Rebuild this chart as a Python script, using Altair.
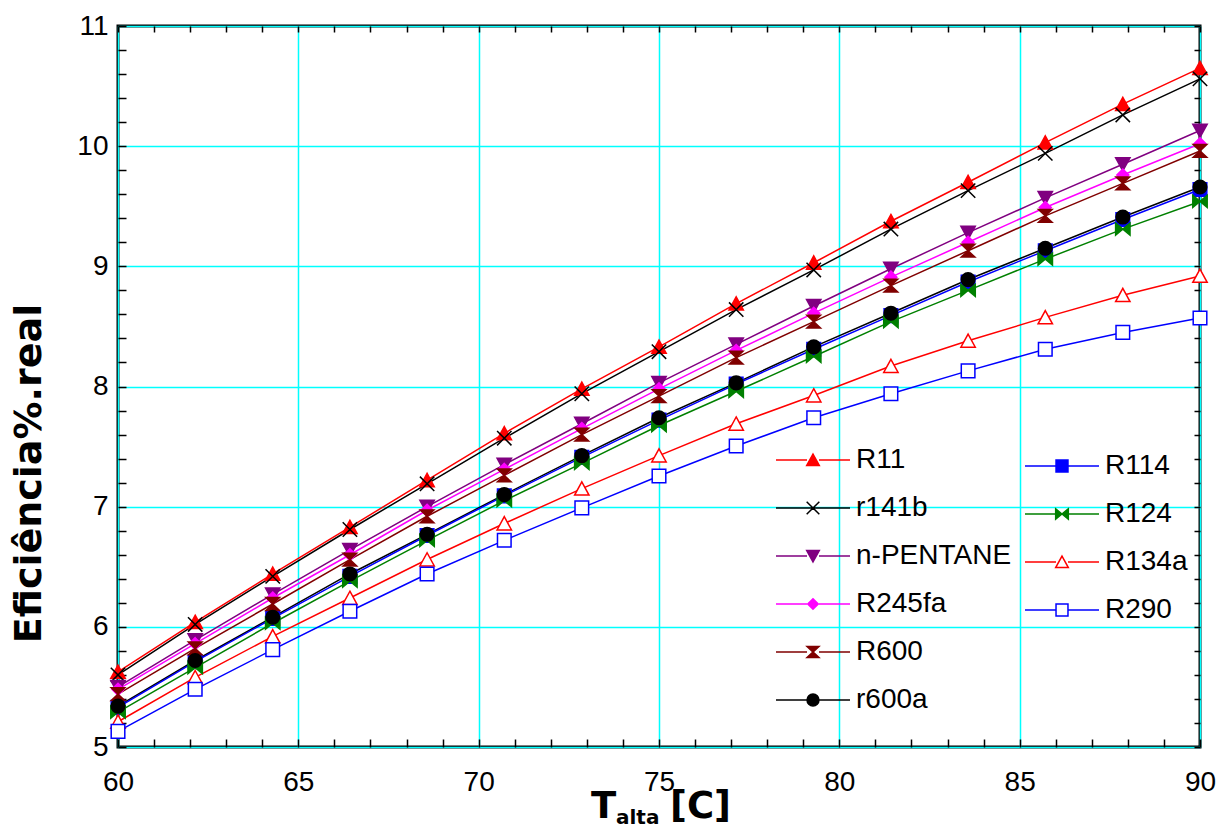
import altair as alt
import pandas as pd

# ---------------- data ----------------
T = [60, 62.14, 64.29, 66.43, 68.57, 70.71, 72.86, 75, 77.14, 79.29, 81.43, 83.57, 85.71, 87.86, 90]

R11 = [5.625, 6.04, 6.44, 6.83, 7.22, 7.61, 7.98, 8.33, 8.69, 9.03, 9.375, 9.70, 10.03, 10.35, 10.65]
r141b = [5.60, 6.02, 6.42, 6.81, 7.19, 7.57, 7.94, 8.29, 8.64, 8.97, 9.31, 9.63, 9.94, 10.26, 10.56]
nPENTANE = [5.50, 5.89, 6.27, 6.64, 7.00, 7.35, 7.69, 8.03, 8.35, 8.67, 8.98, 9.28, 9.57, 9.85, 10.13]
R245fa = [5.48, 5.86, 6.24, 6.60, 6.97, 7.31, 7.65, 7.98, 8.30, 8.61, 8.91, 9.20, 9.49, 9.76, 10.02]
R600 = [5.44, 5.82, 6.19, 6.56, 6.92, 7.26, 7.60, 7.92, 8.24, 8.54, 8.84, 9.13, 9.42, 9.69, 9.96]
r600a = [5.34, 5.72, 6.08, 6.44, 6.77, 7.10, 7.425, 7.74, 8.03, 8.33, 8.61, 8.89, 9.15, 9.41, 9.66]
R114 = [5.33, 5.71, 6.07, 6.42, 6.76, 7.09, 7.41, 7.72, 8.02, 8.31, 8.59, 8.87, 9.13, 9.39, 9.64]
R124 = [5.29, 5.66, 6.03, 6.38, 6.72, 7.05, 7.36, 7.675, 7.96, 8.25, 8.54, 8.80, 9.06, 9.31, 9.54]
R134a = [5.21, 5.58, 5.92, 6.24, 6.56, 6.86, 7.15, 7.425, 7.69, 7.925, 8.17, 8.38, 8.575, 8.76, 8.92]
R290 = [5.13, 5.48, 5.81, 6.13, 6.44, 6.72, 6.99, 7.255, 7.505, 7.74, 7.94, 8.13, 8.31, 8.45, 8.57]

group_a = ["R11", "r141b", "n-PENTANE", "R245fa", "R600", "r600a"]
group_b = ["R114", "R124", "R134a", "R290"]
values = {"R11": R11, "r141b": r141b, "n-PENTANE": nPENTANE, "R245fa": R245fa,
          "R600": R600, "r600a": r600a, "R114": R114, "R124": R124,
          "R134a": R134a, "R290": R290}

x_ticks_major = [60, 65, 70, 75, 80, 85, 90]
y_ticks_major = [5, 6, 7, 8, 9, 10, 11]

# ---------------- styles ----------------
stroke_col = {"R11": "#FF0000", "r141b": "#000000", "n-PENTANE": "#800080", "R245fa": "#FF00FF",
              "R600": "#800000", "r600a": "#000000", "R114": "#0000FF", "R124": "#008000",
              "R134a": "#FF0000", "R290": "#0000FF"}
fill_col = dict(stroke_col)
fill_col["R134a"] = "#FFFFFF"
fill_col["R290"] = "#FFFFFF"
marker = {"R11": "tri_up", "r141b": "x", "n-PENTANE": "tri_down", "R245fa": "diamond",
          "R600": "hourglass", "r600a": "circle", "R114": "square", "R124": "bowtie",
          "R134a": "tri_up", "R290": "square"}

SHAPES = {
    "tri_up": ("poly", [(0, -0.85), (0.9, 0.8), (-0.9, 0.8)]),
    "tri_down": ("poly", [(0, 0.85), (0.9, -0.8), (-0.9, -0.8)]),
    "x": ("lines", [[(-0.9, -0.9), (0.9, 0.9)], [(-0.9, 0.9), (0.9, -0.9)]]),
    "diamond": ("poly", [(0, -0.75), (0.75, 0), (0, 0.75), (-0.75, 0)]),
    "hourglass": ("poly", [(-0.85, -0.8), (0.85, -0.8), (-0.85, 0.8), (0.85, 0.8)]),
    "circle": ("circle", 0.85),
    "square": ("poly", [(-0.85, -0.85), (0.85, -0.85), (0.85, 0.85), (-0.85, 0.85)]),
    "bowtie": ("poly", [(-0.9, -0.75), (0.9, 0.75), (0.9, -0.75), (-0.9, 0.75)]),
}


def shape_path(kind, k):
    t, g = SHAPES[kind]
    if t == "poly":
        return "M" + "L".join(f"{x*k:.4f},{y*k:.4f}" for x, y in g) + "Z"
    if t == "lines":
        return "".join("M" + "L".join(f"{x*k:.4f},{y*k:.4f}" for x, y in seg) for seg in g)
    r = g * k
    return (f"M{r:.4f},0A{r:.4f},{r:.4f},0,1,1,{-r:.4f},0"
            f"A{r:.4f},{r:.4f},0,1,1,{r:.4f},0Z")


def legend_path(kind, k):
    gap = 0.85 * k
    if kind == "x":
        line = "M-1,0L1,0"
    else:
        line = f"M-1,0L{-gap:.4f},0M{gap:.4f},0L1,0"
    return line + shape_path(kind, k)


rows = []
for s, vals in values.items():
    for t, v in zip(T, vals):
        rows.append({"series": s, "T": t, "eff": v})
df = pd.DataFrame(rows)

W, H = 1082, 721
FONT = "Liberation Sans"
TFONT = "DejaVu Sans"

xs = alt.Scale(domain=[60, 90], nice=False, zero=False)
ys = alt.Scale(domain=[5, 11], nice=False, zero=False)


def xenc(axis=None, title=None):
    return alt.X("T:Q", scale=xs, axis=axis, title=title)


def yenc(axis=None, title=None):
    return alt.Y("eff:Q", scale=ys, axis=axis, title=title)


def group_layers(names):
    sub = df[df["series"].isin(names)]
    col_scale = alt.Scale(domain=names, range=[stroke_col[n] for n in names])
    fill_scale = alt.Scale(domain=names, range=[fill_col[n] for n in names])
    shp_scale = alt.Scale(domain=names, range=[shape_path(marker[n], 1.0) for n in names])
    line = alt.Chart(sub).mark_line(strokeWidth=1.5).encode(
        x=xenc(), y=yenc(),
        color=alt.Color("series:N", scale=col_scale, legend=None),
        detail="series:N",
    )
    pts = alt.Chart(sub).mark_point(filled=False, opacity=1, size=256, strokeWidth=1.5).encode(
        x=xenc(), y=yenc(),
        color=alt.Color("series:N", scale=col_scale, legend=None),
        fill=alt.Fill("series:N", scale=fill_scale, legend=None),
        shape=alt.Shape("series:N", scale=shp_scale, legend=None),
    )
    return line, pts


def legend_layer(names, lx, ly):
    sub = df[df["series"].isin(names)]
    col_scale = alt.Scale(domain=names, range=[stroke_col[n] for n in names])
    fill_scale = alt.Scale(domain=names, range=[fill_col[n] for n in names])
    leg_shape = alt.Scale(domain=names, range=[legend_path(marker[n], 0.19) for n in names])
    leg = alt.Legend(orient="none", legendX=lx, legendY=ly, title=None, padding=0,
                     symbolSize=5476, symbolStrokeWidth=1.5, symbolOpacity=1,
                     symbolFillColor="white", clipHeight=38, rowPadding=10,
                     labelFont=FONT, labelFontSize=28, labelColor="black",
                     labelOffset=5, labelLimit=400, labelBaseline="middle")
    return alt.Chart(sub).mark_point(filled=False, opacity=0, size=10).encode(
        x=xenc(), y=yenc(),
        color=alt.Color("series:N", scale=col_scale, legend=leg),
        fill=alt.Fill("series:N", scale=fill_scale, legend=leg),
        shape=alt.Shape("series:N", scale=leg_shape, legend=leg),
    )


lineA, ptsA = group_layers(group_a)
lineB, ptsB = group_layers(group_b)
legA = legend_layer(group_a, 657, 415)
legB = legend_layer(group_b, 906, 421)

minor_x = list(range(60, 91))
minor_y = [round(5 + 0.2 * i, 1) for i in range(31)]

# main axes: labels + cyan grid
axis_main = alt.Chart(df).mark_point(opacity=0).encode(
    x=xenc(alt.Axis(orient="bottom", values=x_ticks_major, grid=True, gridColor="#00FFFF",
                    gridWidth=1.5, ticks=False, domain=False, labelFont=FONT, labelFontSize=28,
                    labelColor="black", labelPadding=21, labelFlush=False, labelOverlap=False,
                    format="d")),
    y=yenc(alt.Axis(orient="left", values=y_ticks_major, grid=True, gridColor="#00FFFF",
                    gridWidth=1.5, ticks=False, domain=False, labelFont=FONT, labelFontSize=28,
                    labelColor="black", labelPadding=10, labelOverlap=False, format="d",
                    titleFont=TFONT, titleFontWeight="bold", titleFontSize=38,
                    titleColor="black", titleAngle=270, titleX=-78, titleY=447,
                    titleBaseline="alphabetic", titleAlign="center"),
           title="Eficiência%.real"),
)

tick_style = dict(grid=False, labels=False, domain=False, ticks=True, tickColor="black",
                  tickWidth=1.5)
# inward ticks on bottom (x) and left (y)
axis_in1 = alt.Chart(df).mark_point(opacity=0).encode(
    x=xenc(alt.Axis(orient="top", offset=-H, values=minor_x, tickSize=8, **tick_style)),
    y=yenc(alt.Axis(orient="right", offset=-W, values=minor_y, tickSize=8, **tick_style)),
)
# inward ticks on top (x) and right (y)
axis_in2 = alt.Chart(df).mark_point(opacity=0).encode(
    x=xenc(alt.Axis(orient="bottom", offset=-H, values=minor_x, tickSize=6, **tick_style)),
    y=yenc(alt.Axis(orient="left", offset=-W, values=minor_y, tickSize=6, **tick_style)),
)

# x-axis title with subscript, as text pieces
tT = alt.Chart(pd.DataFrame({"t": ["T"]})).mark_text(
    font=TFONT, fontWeight="bold", fontSize=37, align="left", baseline="alphabetic",
    color="black").encode(text="t:N", x=alt.value(473), y=alt.value(792))
tSub = alt.Chart(pd.DataFrame({"t": ["alta"]})).mark_text(
    font=TFONT, fontWeight="bold", fontSize=20, align="left", baseline="alphabetic",
    color="black").encode(text="t:N", x=alt.value(498), y=alt.value(798))
tC = alt.Chart(pd.DataFrame({"t": ["[C]"]})).mark_text(
    font=TFONT, fontWeight="bold", fontSize=37, align="left", baseline="alphabetic",
    color="black").encode(text="t:N", x=alt.value(552), y=alt.value(792))

chart = alt.layer(
    axis_main, axis_in1, axis_in2, lineA, lineB, ptsB, ptsA, legA, legB, tT, tSub, tC
).resolve_scale(
    color="independent", fill="independent", shape="independent"
).resolve_axis(
    x="independent", y="independent"
).properties(
    width=W, height=H,
    autosize=alt.AutoSizeParams(type="none"),
    padding={"left": 118, "top": 26, "right": 26, "bottom": 83},
    background="white",
).configure_view(
    stroke="black", strokeWidth=3
)

chart.save("out.html", embed_options={"renderer": "svg", "actions": False})
